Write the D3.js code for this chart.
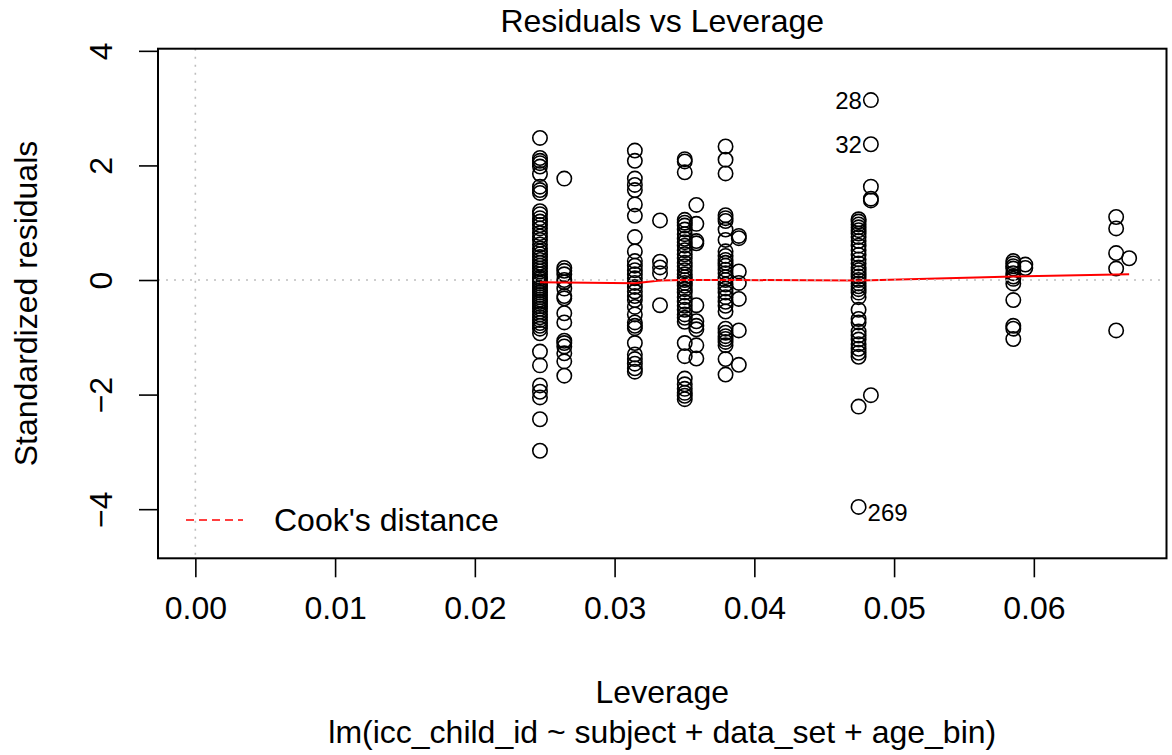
<!DOCTYPE html>
<html>
<head>
<meta charset="utf-8">
<script src="https://cdn.jsdelivr.net/npm/d3@7"></script>
<style>
  html, body { margin: 0; padding: 0; background: #fff; }
  svg text { font-family: "Liberation Sans", Arial, Helvetica, sans-serif; fill: #000; }
</style>
</head>
<body>
<svg id="chart" width="1172" height="755"></svg>
<script>
// Leverage value of each group of observations (one vertical column per design cell)
const groupLeverage = [0.02466, 0.02640, 0.03145, 0.03325, 0.03502, 0.03585, 0.03794,
                       0.03889, 0.04746, 0.04834, 0.05853, 0.05939, 0.06589, 0.06682];

// Standardized residuals of the observations in each group
const groupResiduals = [
  [2.48, 2.13, 2.08, 2.04, 1.98, 1.85, 1.63, 1.57, 1.52, 1.20, 1.15, 1.08, 1.02, 0.96, 0.90,
   0.82, 0.76, 0.70, 0.62, 0.55, 0.50, 0.45, 0.40, 0.35, 0.30, 0.25, 0.20, 0.15, 0.10, 0.05,
   0.02, -0.02, -0.06, -0.10, -0.14, -0.18, -0.22, -0.26, -0.30, -0.34, -0.38, -0.42, -0.46,
   -0.50, -0.55, -0.60, -0.65, -0.70, -0.75, -0.80, -0.85, -0.93, -1.25, -1.49, -1.84, -1.95,
   -2.05, -2.43, -2.98],
  [1.77, 0.21, 0.16, 0.10, 0.00, -0.04, -0.15, -0.28, -0.32, -0.58, -0.74, -1.06, -1.10,
   -1.16, -1.28, -1.42, -1.67],
  [2.26, 2.08, 1.77, 1.66, 1.57, 1.32, 1.12, 0.75, 0.50, 0.33, 0.25, 0.17, 0.10, 0.03, -0.05,
   -0.12, -0.20, -0.28, -0.35, -0.47, -0.60, -0.74, -0.80, -0.84, -1.10, -1.30, -1.38, -1.46,
   -1.54, -1.60],
  [1.04, 0.32, 0.22, 0.12, -0.44],
  [2.11, 2.07, 1.88, 1.05, 1.00, 0.95, 0.88, 0.80, 0.72, 0.66, 0.60, 0.52, 0.45, 0.38, 0.30,
   0.24, 0.17, 0.10, 0.05, 0.00, -0.05, -0.10, -0.16, -0.22, -0.30, -0.38, -0.45, -0.52,
   -0.60, -0.66, -0.73, -1.10, -1.33, -1.72, -1.82, -1.90, -1.97, -2.02, -2.08],
  [1.31, 0.98, 0.68, 0.64, -0.44, -0.72, -0.80, -0.86, -1.14, -1.37],
  [2.33, 2.10, 1.86, 1.13, 1.08, 1.03, 0.88, 0.70, 0.50, 0.42, 0.35, 0.30, 0.25, 0.18, 0.12,
   0.05, 0.00, -0.08, -0.15, -0.22, -0.30, -0.38, -0.45, -0.55, -0.85, -0.92, -0.98, -1.03,
   -1.08, -1.14, -1.38, -1.65],
  [0.77, 0.73, 0.15, -0.05, -0.33, -0.88, -1.48],
  [1.06, 1.02, 0.97, 0.92, 0.87, 0.81, 0.75, 0.68, 0.60, 0.52, 0.44, 0.36, 0.29, 0.22, 0.17,
   0.12, 0.06, 0.00, -0.06, -0.11, -0.16, -0.22, -0.30, -0.52, -0.68, -0.74, -0.90, -0.97,
   -1.04, -1.12, -1.20, -1.27, -1.34, -2.21, -3.96],
  [3.14, 2.37, 1.63, 1.42, 1.39, -2.01],
  [0.33, 0.29, 0.24, 0.20, 0.12, 0.06, 0.02, -0.06, -0.35, -0.80, -0.85, -1.03],
  [0.27, 0.21],
  [1.10, 0.90, 0.47, 0.20, -0.88],
  [0.38]
];

// Lowess smooth of residuals against leverage, one vertex per group
const smoothResidual = [-0.04, -0.045, -0.055, -0.01, 0.0, 0.0, 0.0, 0.0, -0.01, -0.005,
                        0.06, 0.065, 0.095, 0.10];

// Observations flagged with their row id
const idLabels = [
  { id: "28", group: 9, index: 0, side: "left" },
  { id: "32", group: 9, index: 1, side: "left" },
  { id: "269", group: 8, index: 34, side: "right" }
];

const xTicks = [0.00, 0.01, 0.02, 0.03, 0.04, 0.05, 0.06];
const yTicks = [-4, -2, 0, 2, 4];

const titleText = "Residuals vs Leverage";
const xLabel = "Leverage";
const yLabel = "Standardized residuals";
const subCaption = "lm(icc_child_id ~ subject + data_set + age_bin)";
const legendLabel = "Cook's distance";

// ---- derived data ----
const points = [];
groupResiduals.forEach((vals, g) => vals.forEach(v => points.push({ x: groupLeverage[g], y: v })));
const smooth = groupLeverage.map((x, i) => ({ x, y: smoothResidual[i] }));

// ---- layout ----
const W = 1172, H = 755;
const plot = { left: 158, right: 1166.5, top: 48.7, bottom: 558.3 };
const fs = 32;

// R-style ranges: x from 0 to max leverage, y range widened by 8%, then 4% axis padding
const pad = (lo, hi, f) => { const d = (hi - lo) * f; return [lo - d, hi + d]; };
const xDom = pad(0, d3.max(points, d => d.x), 0.04);
const yRaw = pad(d3.min(points, d => d.y), d3.max(points, d => d.y), 0.08);
const yDom = pad(yRaw[0], yRaw[1], 0.04);

const x = d3.scaleLinear().domain(xDom).range([plot.left, plot.right]);
const y = d3.scaleLinear().domain(yDom).range([plot.bottom, plot.top]);

const svg = d3.select("#chart");
svg.append("rect").attr("width", W).attr("height", H).attr("fill", "#fff");

// clip for in-panel marks
svg.append("clipPath").attr("id", "panel")
  .append("rect").attr("x", plot.left).attr("y", plot.top)
  .attr("width", plot.right - plot.left).attr("height", plot.bottom - plot.top);

const panel = svg.append("g").attr("clip-path", "url(#panel)");

// points
panel.append("g").selectAll("circle").data(points).join("circle")
  .attr("cx", d => x(d.x)).attr("cy", d => y(d.y)).attr("r", 7.2)
  .attr("fill", "none").attr("stroke", "#000").attr("stroke-width", 1.6);

// smoother
panel.append("path").datum(smooth)
  .attr("d", d3.line().x(d => x(d.x)).y(d => y(d.y)))
  .attr("fill", "none").attr("stroke", "#ff0000").attr("stroke-width", 2);

// reference lines at zero (drawn over the smoother)
panel.append("line")
  .attr("x1", plot.left).attr("x2", plot.right).attr("y1", y(0)).attr("y2", y(0))
  .attr("stroke", "#bebebe").attr("stroke-width", 1.6).attr("stroke-dasharray", "2,6");
panel.append("line")
  .attr("x1", x(0)).attr("x2", x(0)).attr("y1", plot.top).attr("y2", plot.bottom)
  .attr("stroke", "#bebebe").attr("stroke-width", 1.6).attr("stroke-dasharray", "2,6");

// point id labels
const idG = svg.append("g").attr("font-size", fs * 0.75);
idLabels.forEach(l => {
  const v = groupResiduals[l.group][l.index];
  const px = x(groupLeverage[l.group]), py = y(v);
  if (l.side === "left") {
    idG.append("text").attr("x", px - 9).attr("y", py).attr("dy", "0.35em")
      .attr("text-anchor", "end").text(l.id);
  } else {
    idG.append("text").attr("x", px + 9).attr("y", py + 6).attr("dy", "0.35em")
      .attr("text-anchor", "start").text(l.id);
  }
});

// frame
svg.append("rect").attr("x", plot.left).attr("y", plot.top)
  .attr("width", plot.right - plot.left).attr("height", plot.bottom - plot.top)
  .attr("fill", "none").attr("stroke", "#000").attr("stroke-width", 2);

// x axis
const xAxis = d3.axisBottom(x).tickValues(xTicks).tickFormat(d3.format(".2f"))
  .tickSizeInner(19).tickSizeOuter(0).tickPadding(19);
const gx = svg.append("g").attr("transform", `translate(0,${plot.bottom})`).call(xAxis);
gx.select(".domain").remove();
gx.selectAll("line").attr("stroke", "#000").attr("stroke-width", 1.6);
gx.selectAll("text").attr("font-size", fs).attr("font-family", null);

// y axis, labels parallel to the axis
const minus = d => (d < 0 ? "\u2212" + Math.abs(d) : String(d));
const yAxis = d3.axisLeft(y).tickValues(yTicks).tickFormat(minus)
  .tickSizeInner(19).tickSizeOuter(0).tickPadding(0);
const gy = svg.append("g").attr("transform", `translate(${plot.left},0)`).call(yAxis);
gy.select(".domain").remove();
gy.selectAll("line").attr("stroke", "#000").attr("stroke-width", 1.6);
gy.selectAll("text")
  .attr("font-size", fs).attr("font-family", null)
  .attr("x", null).attr("dy", null)
  .attr("text-anchor", "middle")
  .attr("transform", "translate(-46,0) rotate(-90)");

// titles
svg.append("text").attr("x", (plot.left + plot.right) / 2).attr("y", 32)
  .attr("text-anchor", "middle").attr("font-size", fs).text(titleText);
svg.append("text").attr("x", (plot.left + plot.right) / 2).attr("y", 703)
  .attr("text-anchor", "middle").attr("font-size", fs).text(xLabel);
svg.append("text").attr("x", (plot.left + plot.right) / 2).attr("y", 743)
  .attr("text-anchor", "middle").attr("font-size", fs).text(subCaption);
svg.append("text")
  .attr("transform", `translate(37,${(plot.top + plot.bottom) / 2}) rotate(-90)`)
  .attr("text-anchor", "middle").attr("font-size", fs).text(yLabel);

// legend
const lg = svg.append("g");
lg.append("line").attr("x1", 186).attr("x2", 243).attr("y1", 520).attr("y2", 520)
  .attr("stroke", "#ff0000").attr("stroke-width", 1.6).attr("stroke-dasharray", "8,5");
lg.append("text").attr("x", 274).attr("y", 520).attr("dy", "0.35em")
  .attr("font-size", fs).text(legendLabel);
</script>
</body>
</html>
